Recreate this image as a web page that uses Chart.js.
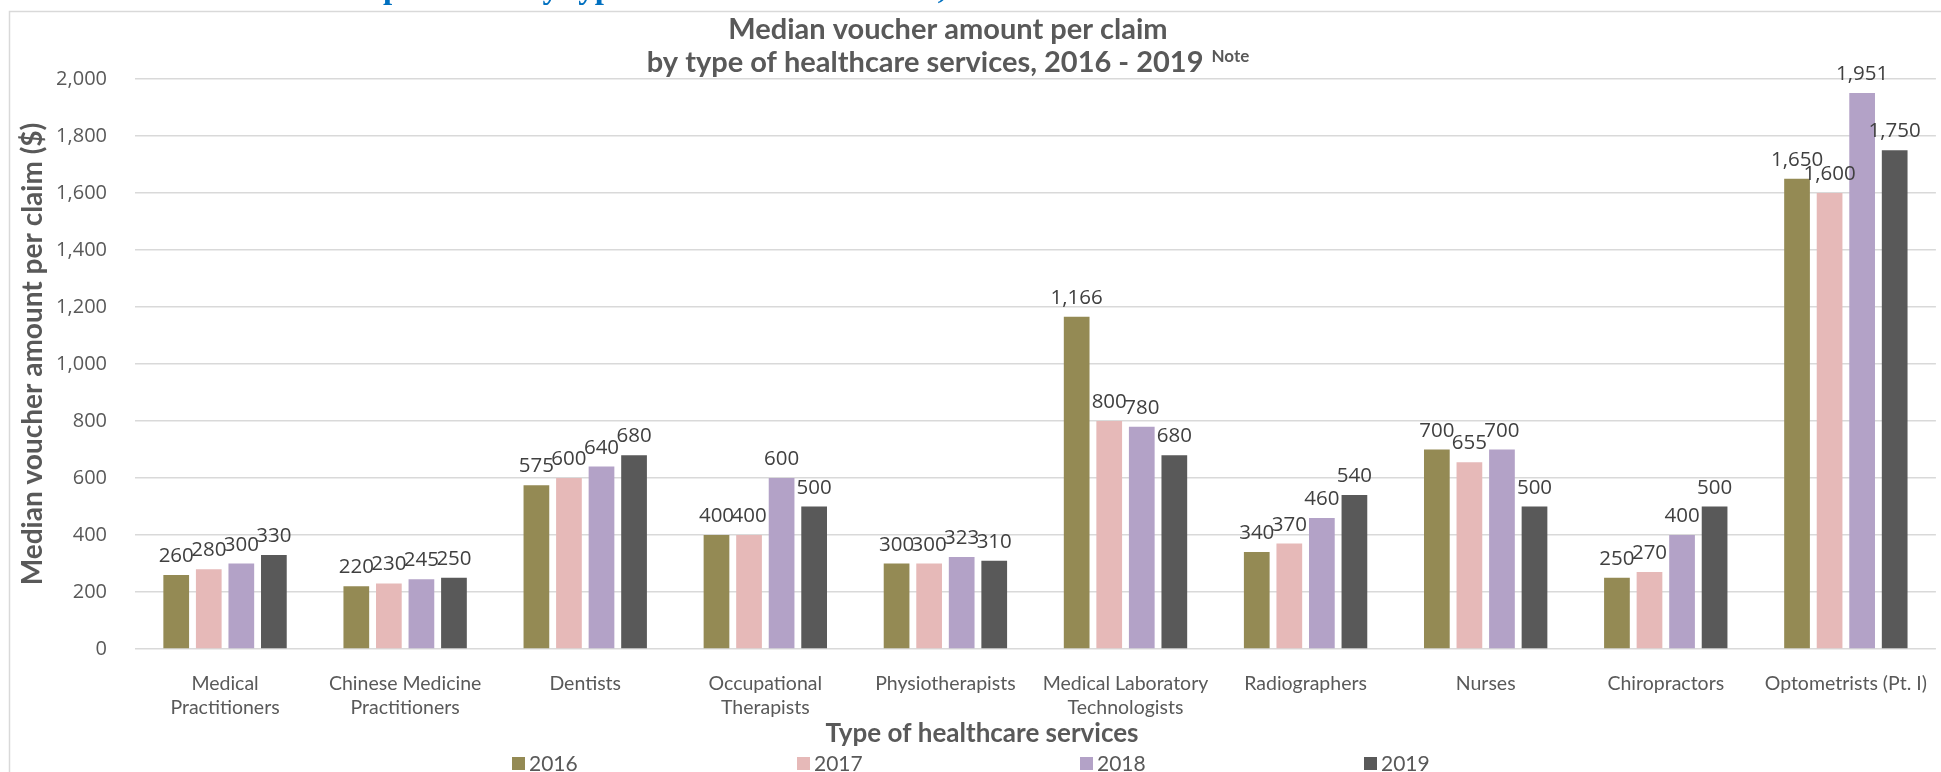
<!DOCTYPE html>
<html>
<head>
<meta charset="utf-8">
<title>Median voucher amount per claim</title>
<script src="https://cdn.jsdelivr.net/npm/chart.js@4.4.0/dist/chart.umd.min.js"></script>
<style>
  html, body { margin: 0; padding: 0; background: #fff; overflow: hidden; }
  #wrap { position: relative; width: 1941px; height: 772px; }
</style>
</head>
<body>
<div id="wrap"><canvas id="voucherChart" width="1941" height="772"></canvas></div>
<script>
// Healthcare service types (multi-line labels)
var services = [
  ['Medical', 'Practitioners'],
  ['Chinese Medicine', 'Practitioners'],
  ['Dentists'],
  ['Occupational', 'Therapists'],
  ['Physiotherapists'],
  ['Medical Laboratory', 'Technologists'],
  ['Radiographers'],
  ['Nurses'],
  ['Chiropractors'],
  ['Optometrists (Pt. I)']
];
var years = ['2016', '2017', '2018', '2019'];

// Median voucher amount per claim ($)
var median2016 = [260, 220, 575, 400, 300, 1166, 340, 700, 250, 1650];
var median2017 = [280, 230, 600, 400, 300, 800, 370, 655, 270, 1600];
var median2018 = [300, 245, 640, 600, 323, 780, 460, 700, 400, 1951];
var median2019 = [330, 250, 680, 500, 310, 680, 540, 500, 500, 1750];

var yMin = 0, yMax = 2000, yStep = 200;

var yearColors = ['#948A54', '#E6B9B8', '#B3A2C7', '#595959'];
var textGrey = '#595959';
var labelGrey = '#404040';
var lineGrey = '#D9D9D9';

// Frame, cropped page heading and the two-line chart title
var backdrop = {
  id: 'backdrop',
  beforeDraw: function(chart) {
    var ctx = chart.ctx;
    ctx.save();
    ctx.fillStyle = '#fff';
    ctx.fillRect(0, 0, chart.width, chart.height);

    ctx.strokeStyle = lineGrey;
    ctx.lineWidth = 1.5;
    ctx.beginPath();
    ctx.moveTo(9.5, chart.height);
    ctx.lineTo(9.5, 11.5);
    ctx.lineTo(chart.width, 11.5);
    ctx.stroke();

    // page heading above the chart box, only its descenders show
    ctx.font = 'bold 33px "Liberation Serif"';
    ctx.fillStyle = '#0070C0';
    ctx.textAlign = 'left';
    ctx.textBaseline = 'alphabetic';
    var lead = ctx.measureText('Median voucher amount ').width;
    ctx.fillText('Median voucher amount per claim by type of healthcare services, 2016 - 2019', 383 - lead, -2);

    ctx.fillStyle = textGrey;
    ctx.textAlign = 'center';
    ctx.font = 'bold 29px Lato';
    ctx.fillText('Median voucher amount per claim', 948, 39);

    var line2 = 'by type of healthcare services, 2016 - 2019';
    var w2 = ctx.measureText(line2).width;
    ctx.font = 'bold 17px Lato';
    var wn = ctx.measureText('Note').width;
    var x0 = 948 - (w2 + 8 + wn) / 2;
    ctx.textAlign = 'left';
    ctx.fillText('Note', x0 + w2 + 8, 62);
    ctx.font = 'bold 29px Lato';
    ctx.fillText(line2, x0, 72);
    ctx.restore();
  }
};

// Value labels above each bar
var barValues = {
  id: 'barValues',
  afterDatasetsDraw: function(chart) {
    var ctx = chart.ctx;
    ctx.save();
    ctx.font = '20.5px "Open Sans"';
    ctx.fillStyle = labelGrey;
    ctx.textAlign = 'center';
    ctx.textBaseline = 'alphabetic';
    chart.data.datasets.forEach(function(ds, i) {
      chart.getDatasetMeta(i).data.forEach(function(bar, j) {
        ctx.fillText(ds.data[j].toLocaleString('en-US'), bar.x, bar.y - 13);
      });
    });
    ctx.restore();
  }
};

// Axis titles and the bottom legend
var decorations = {
  id: 'decorations',
  afterDraw: function(chart) {
    var ctx = chart.ctx;
    ctx.save();
    ctx.fillStyle = textGrey;
    ctx.textAlign = 'center';
    ctx.textBaseline = 'middle';
    ctx.font = 'bold 26px Lato';
    ctx.fillText('Type of healthcare services', 982, 734);

    ctx.translate(33, 354);
    ctx.rotate(-Math.PI / 2);
    ctx.font = 'bold 28px Lato';
    ctx.fillText('Median voucher amount per claim ($)', 0, 0);
    ctx.restore();

    ctx.save();
    ctx.font = '21px Lato';
    ctx.textAlign = 'left';
    ctx.textBaseline = 'middle';
    var legendX = [512, 797, 1080, 1364];
    chart.data.datasets.forEach(function(ds, i) {
      ctx.fillStyle = ds.backgroundColor;
      ctx.fillRect(legendX[i], 757, 13, 13);
      ctx.fillStyle = textGrey;
      ctx.fillText(ds.label, legendX[i] + 17, 764);
    });
    ctx.restore();
  }
};

var seriesValues = [median2016, median2017, median2018, median2019];

var ctx = document.getElementById('voucherChart').getContext('2d');
var voucherChart = new Chart(ctx, {
  type: 'bar',
  data: {
    labels: services,
    datasets: years.map(function(y, i) {
      return {
        label: y,
        data: seriesValues[i],
        backgroundColor: yearColors[i],
        borderWidth: 0,
        barPercentage: 0.79,
        categoryPercentage: 0.723
      };
    })
  },
  options: {
    responsive: false,
    animation: false,
    devicePixelRatio: 1,
    layout: { padding: { top: 79, left: 0, right: 0, bottom: 0 } },
    plugins: {
      legend: { display: false },
      title: { display: false },
      tooltip: { enabled: false }
    },
    scales: {
      x: {
        grid: { display: false },
        border: { display: false },
        ticks: {
          color: textGrey,
          font: { family: 'Lato', size: 19.5, lineHeight: 1.27 },
          padding: 14,
          maxRotation: 0,
          autoSkip: false
        },
        afterFit: function(scale) { scale.height = 123; }
      },
      y: {
        min: yMin,
        max: yMax,
        grid: { color: lineGrey, lineWidth: 1.5, drawTicks: false },
        border: { display: false },
        ticks: {
          stepSize: yStep,
          color: textGrey,
          font: { family: 'Open Sans', size: 20 },
          padding: 28
        },
        afterFit: function(scale) { scale.width = 135; }
      }
    }
  },
  plugins: [backdrop, barValues, decorations]
});
</script>
</body>
</html>
